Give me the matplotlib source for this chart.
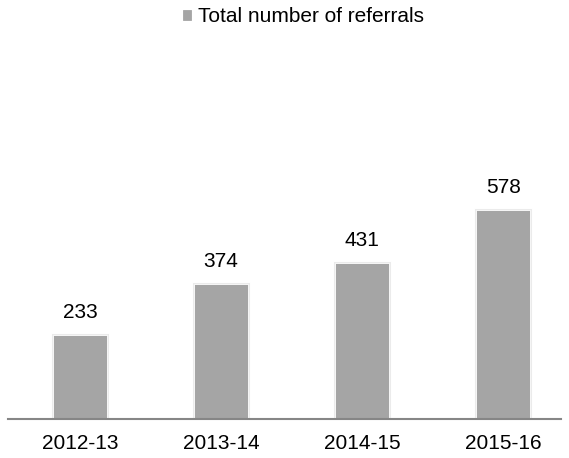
import matplotlib.pyplot as plt
import matplotlib.patheffects as pe

years = ["2012-13", "2013-14", "2014-15", "2015-16"]
referrals = [233, 374, 431, 578]

plt.rcParams['font.family'] = ['Liberation Sans', 'DejaVu Sans']

fig = plt.figure(figsize=(5.69, 4.58), dpi=100)
ax = fig.add_axes([0.014, 0.0852, 0.972, 0.7895])

x = range(len(years))
bars = ax.bar(x, referrals, width=0.385, color="#a5a5a5", edgecolor="white",
              linewidth=0.6, label="Total number of referrals", zorder=2)
for b in bars:
    b.set_path_effects([pe.Stroke(linewidth=2.2, foreground="#ebebeb"), pe.Normal()])

for xi, v in zip(x, referrals):
    ax.annotate(str(v), (xi, v), xytext=(0, 12.2), textcoords="offset points",
                ha="center", va="baseline", fontsize=15, color="#000000")

ax.set_xlim(-0.51, 3.41)
ax.set_ylim(0, 1000)
ax.set_xticks(list(x))
ax.set_xticklabels(years, fontsize=15)
ax.tick_params(axis="x", length=0, pad=11)
ax.set_yticks([])
for s in ["top", "right", "left"]:
    ax.spines[s].set_visible(False)
ax.spines["bottom"].set_color("#868686")
ax.spines["bottom"].set_linewidth(1.5)

leg = fig.legend(handles=[bars], labels=["Total number of referrals"], loc="center",
                 bbox_to_anchor=(0.533, 0.963), frameon=False, fontsize=15,
                 handlelength=0.4, handleheight=0.4, handletextpad=0.3)
for h in leg.legend_handles:
    h.set_path_effects([])
    h.set_edgecolor("#a5a5a5")

fig.savefig("out.png", dpi=100, facecolor="white")
